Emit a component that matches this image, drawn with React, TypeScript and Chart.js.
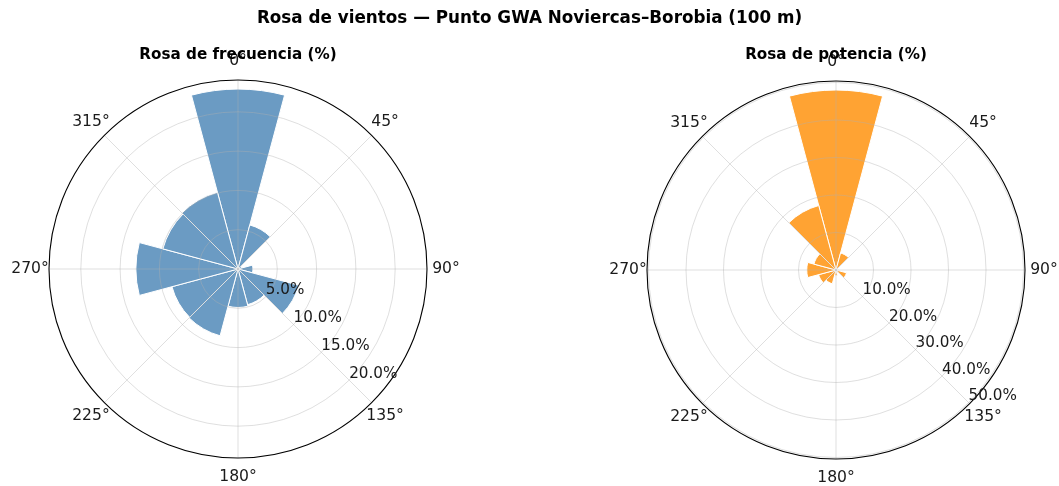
import React, { useEffect, useRef } from "react";
import { Chart, registerables } from "chart.js";

Chart.register(...registerables);

// ---- data ----
const DIRECTIONS = [0, 30, 60, 90, 120, 150, 180, 210, 240, 270, 300, 330];
const FREQ_VALUES = [22.9, 5.8, 0.5, 1.9, 8.0, 4.7, 4.9, 8.8, 8.7, 13.0, 9.9, 10.1];
const POWER_VALUES = [48.0, 4.7, 0.3, 0.8, 2.9, 0.8, 1.5, 3.8, 4.8, 7.8, 6.1, 17.8];
const FREQ_TICKS = [5, 10, 15, 20];
const POWER_TICKS = [10, 20, 30, 40, 50];
const FREQ_MAX = 24.05;
const POWER_MAX = 50.4;
const ANGLE_TICKS = [0, 45, 90, 135, 180, 225, 270, 315];

const MAIN_TITLE = "Rosa de vientos — Punto GWA Noviercas–Borobia (100 m)";
const FREQ_TITLE = "Rosa de frecuencia (%)";
const POWER_TITLE = "Rosa de potencia (%)";

const FONT = "'DejaVu Sans', sans-serif";
const GRID_COLOR = "rgba(176,176,176,0.5)";
const RLABEL_ANGLE = 135;

function makeDecor(title: string, ticks: number[]) {
  return {
    id: "roseDecor",
    afterDatasetsDraw(chart: any) {
      const s = chart.scales.r;
      const ctx = chart.ctx;
      ctx.save();
      ctx.strokeStyle = GRID_COLOR;
      ctx.lineWidth = 0.8;
      for (const a of ANGLE_TICKS) {
        const t = (a * Math.PI) / 180;
        ctx.beginPath();
        ctx.moveTo(s.xCenter, s.yCenter);
        ctx.lineTo(s.xCenter + s.drawingArea * Math.sin(t), s.yCenter - s.drawingArea * Math.cos(t));
        ctx.stroke();
      }
      ctx.restore();
    },
    afterDraw(chart: any) {
      const s = chart.scales.r;
      const ctx = chart.ctx;
      ctx.save();
      // outer spine
      ctx.strokeStyle = "#000";
      ctx.lineWidth = 1.1;
      ctx.beginPath();
      ctx.arc(s.xCenter, s.yCenter, s.drawingArea, 0, Math.PI * 2);
      ctx.stroke();
      // angle labels
      ctx.fillStyle = "#1a1a1a";
      ctx.font = `15.6px ${FONT}`;
      ctx.textAlign = "center";
      ctx.textBaseline = "middle";
      const lr = s.drawingArea + 19;
      for (const a of ANGLE_TICKS) {
        const t = (a * Math.PI) / 180;
        ctx.fillText(`${a}°`, s.xCenter + lr * Math.sin(t), s.yCenter - lr * Math.cos(t));
      }
      // radial tick labels
      ctx.font = `15.2px ${FONT}`;
      ctx.textAlign = "left";
      ctx.textBaseline = "alphabetic";
      const rt = (RLABEL_ANGLE * Math.PI) / 180;
      for (const v of ticks) {
        const d = s.getDistanceFromCenterForValue(v);
        ctx.fillText(`${v.toFixed(1)}%`, s.xCenter + d * Math.sin(rt), s.yCenter - d * Math.cos(rt) - 2.5);
      }
      // subplot title
      ctx.font = `bold 15.2px ${FONT}`;
      ctx.textAlign = "center";
      ctx.textBaseline = "middle";
      ctx.fillStyle = "#000";
      ctx.fillText(title, s.xCenter, 55);
      ctx.restore();
    },
  };
}

type RoseProps = {
  values: number[];
  max: number;
  ticks: number[];
  color: string;
  title: string;
  left: number;
  width: number;
  padding: { left: number; right: number; top: number; bottom: number };
};

function Rose({ values, max, ticks, color, title, left, width, padding }: RoseProps) {
  const ref = useRef<HTMLCanvasElement | null>(null);
  useEffect(() => {
    if (!ref.current) return;
    const chart = new Chart(ref.current, {
      type: "polarArea",
      data: {
        labels: DIRECTIONS.map((d) => `${d}°`),
        datasets: [
          {
            data: values,
            backgroundColor: color,
            borderColor: "#ffffff",
            borderWidth: 1,
          },
        ],
      },
      options: {
        responsive: false,
        animation: false,
        devicePixelRatio: 1,
        layout: { padding },
        plugins: { legend: { display: false }, tooltip: { enabled: false }, title: { display: false } },
        scales: {
          r: {
            type: "radialLinear",
            min: 0,
            max,
            startAngle: -15,
            afterBuildTicks: (scale: any) => {
              scale.ticks = [0, ...ticks].map((v) => ({ value: v }));
            },
            ticks: { display: false },
            angleLines: { display: false },
            pointLabels: { display: false },
            grid: { circular: true, color: GRID_COLOR, lineWidth: 0.8, z: 1 },
          },
        },
      } as any,
      plugins: [makeDecor(title, ticks)],
    });
    return () => chart.destroy();
  }, []);
  return (
    <canvas
      ref={ref}
      width={width}
      height={486}
      style={{ position: "absolute", left, top: 0, width, height: 486 }}
    />
  );
}

export default function App() {
  return (
    <div
      style={{
        position: "absolute",
        left: 0,
        top: 0,
        width: 1059,
        height: 486,
        background: "#fff",
        overflow: "hidden",
      }}
    >
      <Rose
        values={FREQ_VALUES}
        max={FREQ_MAX}
        ticks={FREQ_TICKS}
        color="rgba(70,130,180,0.8)"
        title={FREQ_TITLE}
        left={0}
        width={529}
        padding={{ left: 49, right: 102, top: 80, bottom: 28 }}
      />
      <Rose
        values={POWER_VALUES}
        max={POWER_MAX}
        ticks={POWER_TICKS}
        color="rgba(255,140,0,0.8)"
        title={POWER_TITLE}
        left={529}
        width={530}
        padding={{ left: 118, right: 34, top: 81, bottom: 27 }}
      />
      <div
        style={{
          position: "absolute",
          left: 0,
          top: 6,
          width: 1059,
          textAlign: "center",
          font: `bold 16.8px ${FONT}`,
          lineHeight: "22px",
          color: "#000",
        }}
      >
        {MAIN_TITLE}
      </div>
    </div>
  );
}
